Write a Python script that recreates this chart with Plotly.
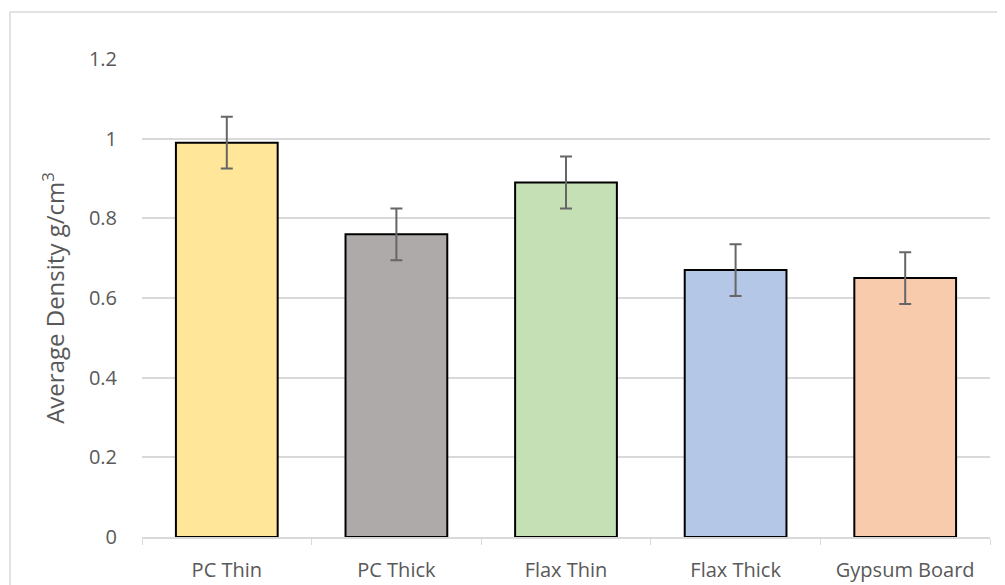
import plotly.graph_objects as go

categories = ["PC Thin", "PC Thick", "Flax Thin", "Flax Thick", "Gypsum Board"]
density = [0.99, 0.76, 0.89, 0.67, 0.65]
error = [0.065, 0.065, 0.065, 0.065, 0.065]
colors = ["#FFE699", "#AEAAAA", "#C5E0B4", "#B4C7E7", "#F8CBAD"]
y_ticks = [0, 0.2, 0.4, 0.6, 0.8, 1, 1.2]
y_tick_labels = ["0", "0.2", "0.4", "0.6", "0.8", "1", "1.2"]

# page body has an 8px default margin, so margins compensate for it
W, H = 1005, 585
L, R, T, B = 134, 23, 51, 56
pw, ph = W - L - R, H - T - B

fig = go.Figure(go.Bar(
    x=categories, y=density,
    marker=dict(color=colors, line=dict(color="#000000", width=2)),
    width=0.6,
    error_y=dict(type="data", array=error, visible=True,
                 color="#666666", thickness=2, width=6),
))

font_family = "Open Sans, Lato, sans-serif"
fig.update_layout(
    width=W, height=H,
    margin=dict(l=L, r=R, t=T, b=B, autoexpand=False),
    paper_bgcolor="white", plot_bgcolor="white",
    showlegend=False,
    font=dict(family=font_family, size=20, color="#595959"),
    xaxis=dict(
        showgrid=False, showline=True, linecolor="#D9D9D9", linewidth=1.5,
        ticks="outside", tickson="boundaries", ticklen=6, tickcolor="#D9D9D9",
        tickfont=dict(size=20, color="#595959"), ticklabelstandoff=14,
    ),
    yaxis=dict(
        range=[0, 1.2], tickvals=y_ticks, ticktext=y_tick_labels,
        showgrid=True, gridcolor="#D9D9D9", gridwidth=1.5,
        zeroline=False, showline=False, ticks="", ticklabelstandoff=24,
        tickfont=dict(size=20, color="#595959"),
        title=dict(text="Average Density g/cm<sup>3</sup>",
                   font=dict(size=24, color="#595959"), standoff=17),
    ),
    shapes=[dict(
        type="rect", xref="paper", yref="paper",
        x0=(2 - L) / pw, x1=(W + 10 - L) / pw,
        y0=-(B + 10) / ph, y1=1 + (T - 4) / ph,
        line=dict(color="#D9D9D9", width=1.5), fillcolor="rgba(0,0,0,0)",
        layer="below",
    )],
)

fig.write_html("out.html")
